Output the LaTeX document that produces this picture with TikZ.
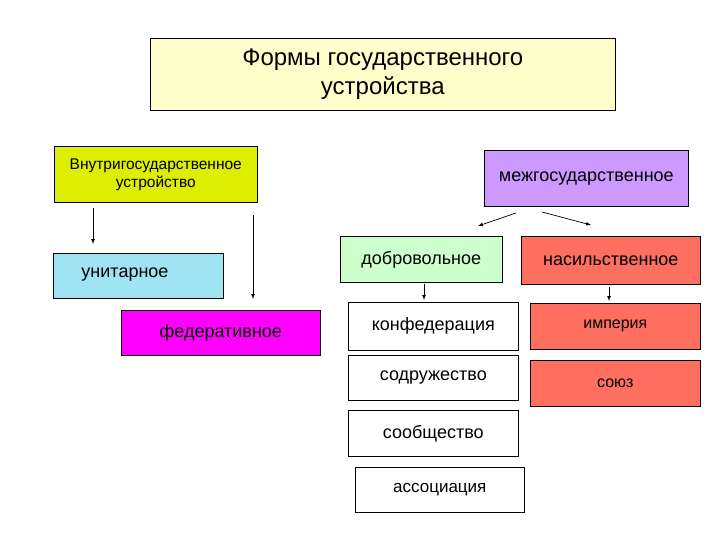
\documentclass[tikz,border=0pt]{standalone}
\usepackage{fontspec}
\setmainfont{Liberation Sans}
\begin{document}
\begin{tikzpicture}[x=1pt,y=-1pt,
  bx/.style={draw=black,line width=0.6pt,inner sep=0pt,anchor=north west,align=center},
  ar/.style={-latex,line width=0.7pt}]
\useasboundingbox (0,0) rectangle (720,540);
\definecolor{ttl}{HTML}{FFFFCC}
\definecolor{yg}{HTML}{DDEE00}
\definecolor{lav}{HTML}{CC99FF}
\definecolor{lb}{HTML}{A0E4F4}
\definecolor{lg}{HTML}{CCFFCC}
\definecolor{cor}{HTML}{FF6F5F}
\definecolor{mag}{HTML}{FF00FF}
\node[bx,fill=ttl,minimum width=465,minimum height=72,font=\fontsize{24}{29}\selectfont] (t) at (150,38) {Формы государственного\\устройства};
\node[bx,fill=yg,minimum width=203,minimum height=56,font=\fontsize{15.5}{18}\selectfont] (v) at (54,146) {Внутригосударственное\\устройство};
\node[bx,fill=lav,minimum width=204,minimum height=56,font=\fontsize{18}{21}\selectfont] (m) at (484,150) {межгосударственное};
\node[bx,fill=lb,minimum width=170,minimum height=45] (u) at (53,253) {};
\node[font=\fontsize{18}{21}\selectfont] (ut) at (125,275) {унитарное};
\node[bx,fill=mag,minimum width=199,minimum height=45,font=\fontsize{18}{21}\selectfont] (f) at (121,310) {федеративное};
\node[bx,fill=lg,minimum width=162,minimum height=46,font=\fontsize{18}{21}\selectfont] (d) at (340,236) {добровольное};
\node[bx,fill=cor,minimum width=179,minimum height=48,font=\fontsize{18}{21}\selectfont] (n) at (521,236) {насильственное};
\node[bx,fill=white,minimum width=170,minimum height=48,font=\fontsize{18}{21}\selectfont] (k) at (348,302) {конфедерация};
\node[bx,fill=white,minimum width=170,minimum height=45,font=\fontsize{18}{21}\selectfont] (s) at (348,355) {содружество};
\node[bx,fill=white,minimum width=170,minimum height=46,font=\fontsize{18}{21}\selectfont] (so) at (348,410) {сообщество};
\node[bx,fill=white,minimum width=169,minimum height=45,font=\fontsize{17}{20}\selectfont] (a) at (355,467) {ассоциация};
\node[bx,fill=cor,minimum width=170,minimum height=46,font=\fontsize{16}{19}\selectfont] (i) at (530,303) {империя};
\node[bx,fill=cor,minimum width=170,minimum height=46,font=\fontsize{16}{19}\selectfont] (sz) at (530,360) {союз};
\coordinate (a1s) at (93,208); \coordinate (a1e) at (93,244);
\coordinate (a2s) at (253,215); \coordinate (a2e) at (253,299);
\coordinate (a3s) at (516,213); \coordinate (a3e) at (478,226);
\coordinate (a4s) at (542,212); \coordinate (a4e) at (591,225);
\coordinate (a5s) at (424,284); \coordinate (a5e) at (424,300);
\coordinate (a6s) at (609,287); \coordinate (a6e) at (609,301);
\draw[ar] (a1s) -- (a1e);
\draw[ar] (a2s) -- (a2e);
\draw[ar] (a3s) -- (a3e);
\draw[ar] (a4s) -- (a4e);
\draw[ar] (a5s) -- (a5e);
\draw[ar] (a6s) -- (a6e);
\end{tikzpicture}
\end{document}
